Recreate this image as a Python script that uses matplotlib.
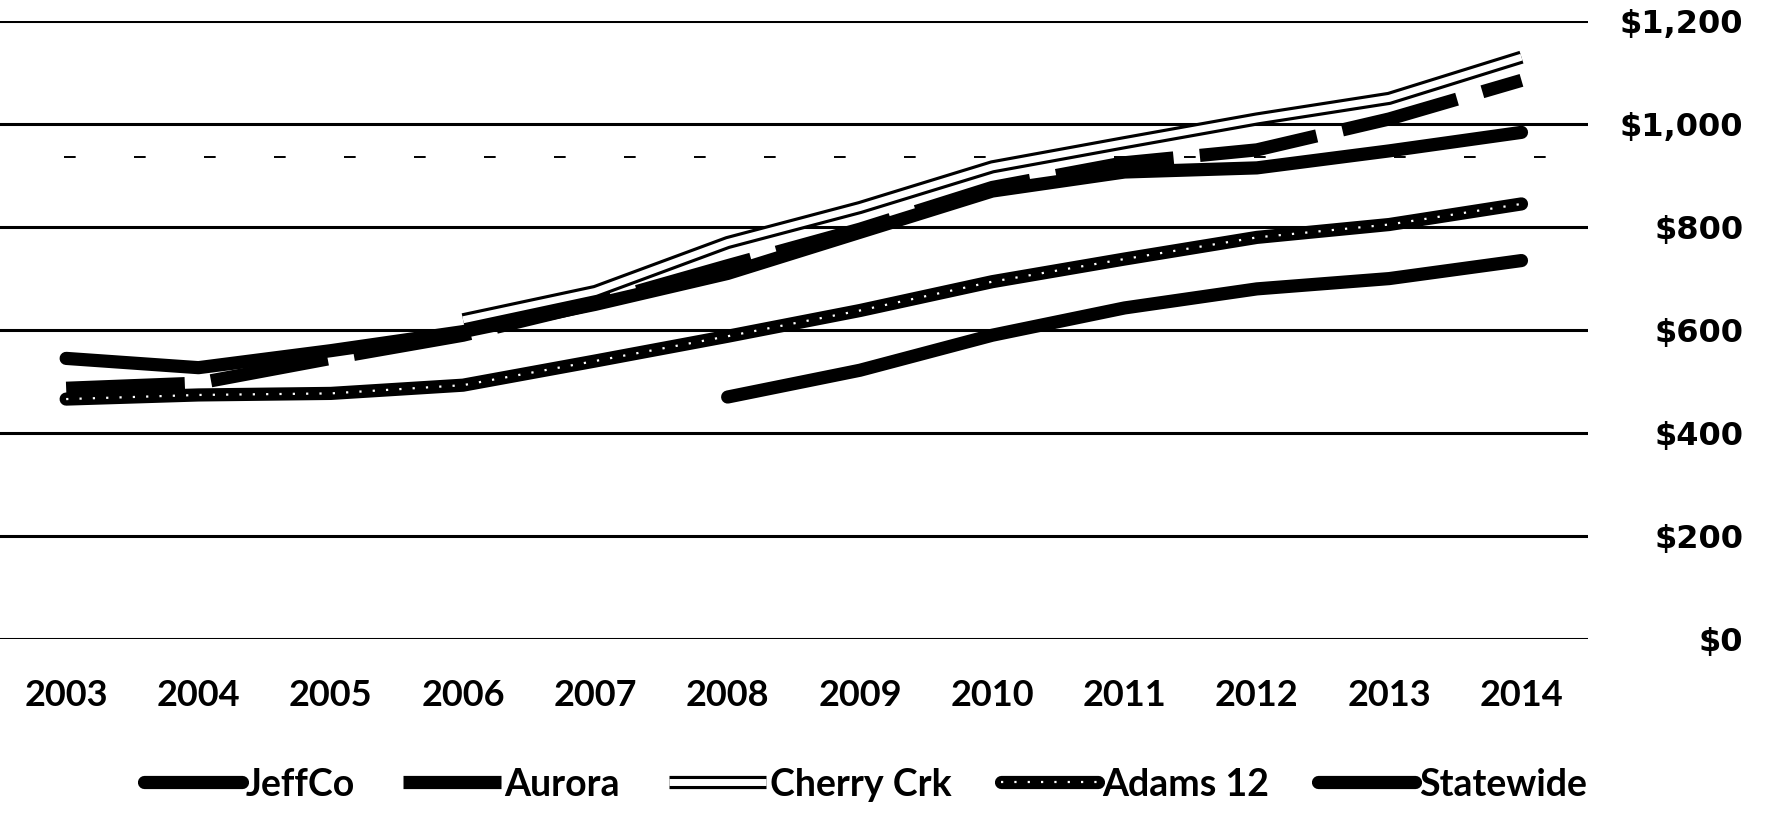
import numpy as np
import matplotlib
matplotlib.use("Agg")
import matplotlib.pyplot as plt

years = ["2003", "2004", "2005", "2006", "2007", "2008", "2009", "2010", "2011", "2012", "2013", "2014"]
jeffco = [545, 527, 560, 597, 650, 710, 790, 870, 907, 915, 948, 984]
aurora = [487, 497, 545, 590, 652, 725, 796, 877, 925, 950, 1010, 1085]
cherry_crk = [np.nan, np.nan, np.nan, 620, 675, 770, 838, 917, 964, 1010, 1050, 1130]
adams12 = [466, 474, 477, 493, 540, 588, 638, 694, 738, 780, 805, 845]
statewide = [np.nan, np.nan, np.nan, np.nan, np.nan, 470, 522, 590, 643, 680, 700, 735]
y_ticks = [0, 200, 400, 600, 800, 1000, 1200]
y_labels = ["$0", "$200", "$400", "$600", "$800", "$1,000", "$1,200"]

fig = plt.figure(figsize=(17.66, 8.13), dpi=100)
ax = fig.add_axes([0.0, 0.214, 0.899, 0.760])
x = np.arange(len(years))

LW = 9.5
# grid
for v in y_ticks:
    ax.axhline(v, color="black", lw=2.2, zorder=1)
# faint scan artefact line
ax.axhline(936, xmin=0.04, xmax=0.99, color="black", lw=1.4,
           linestyle=(0, (6, 30)), zorder=1)

h_j = ax.plot(x, jeffco, color="black", lw=LW, solid_capstyle="round", zorder=4)[0]

h_a1 = ax.plot(x, aurora, color="black", lw=LW, linestyle=(0, (9, 2)),
               dash_capstyle="butt", zorder=4)[0]

h_c1 = ax.plot(x, cherry_crk, color="black", lw=LW, solid_capstyle="butt", zorder=5)[0]
h_c2 = ax.plot(x, cherry_crk, color="white", lw=LW - 4.5, solid_capstyle="butt", zorder=6)[0]

h_d1 = ax.plot(x, adams12, color="black", lw=LW, solid_capstyle="round", zorder=4)[0]
h_d2 = ax.plot(x, adams12, color="white", lw=1.6, linestyle=(0, (1, 5)), zorder=4.5)[0]

h_s = ax.plot(x, statewide, color="black", lw=LW, solid_capstyle="round", zorder=4)[0]

ax.set_xlim(-0.5, len(years) - 0.5)
ax.set_ylim(0, 1200)
for s in ax.spines.values():
    s.set_visible(False)

ax.set_xticks(x)
ax.set_xticklabels(years, fontfamily="Lato", fontweight="bold", fontsize=26)
ax.tick_params(axis="x", length=0, pad=29)

ax.set_yticks(y_ticks)
ax.set_yticklabels(y_labels, fontfamily="DejaVu Sans", fontweight="bold", fontsize=23)
ax.tick_params(axis="y", left=False, right=False, labelleft=False, labelright=True,
               length=0, pad=112)
for t in ax.get_yticklabels():
    t.set_horizontalalignment("right")

leg = fig.legend([h_j, h_a1, (h_c1, h_c2), (h_d1, h_d2), h_s],
                 ["JeffCo", "Aurora", "Cherry Crk", "Adams 12", "Statewide"],
                 loc="center", bbox_to_anchor=(0.49, 0.035), ncol=5, frameon=False,
                 prop={"family": "Lato", "weight": "bold", "size": 27},
                 handlelength=2.6, handletextpad=0.1, columnspacing=1.3)

fig.savefig("out.png", dpi=100)
